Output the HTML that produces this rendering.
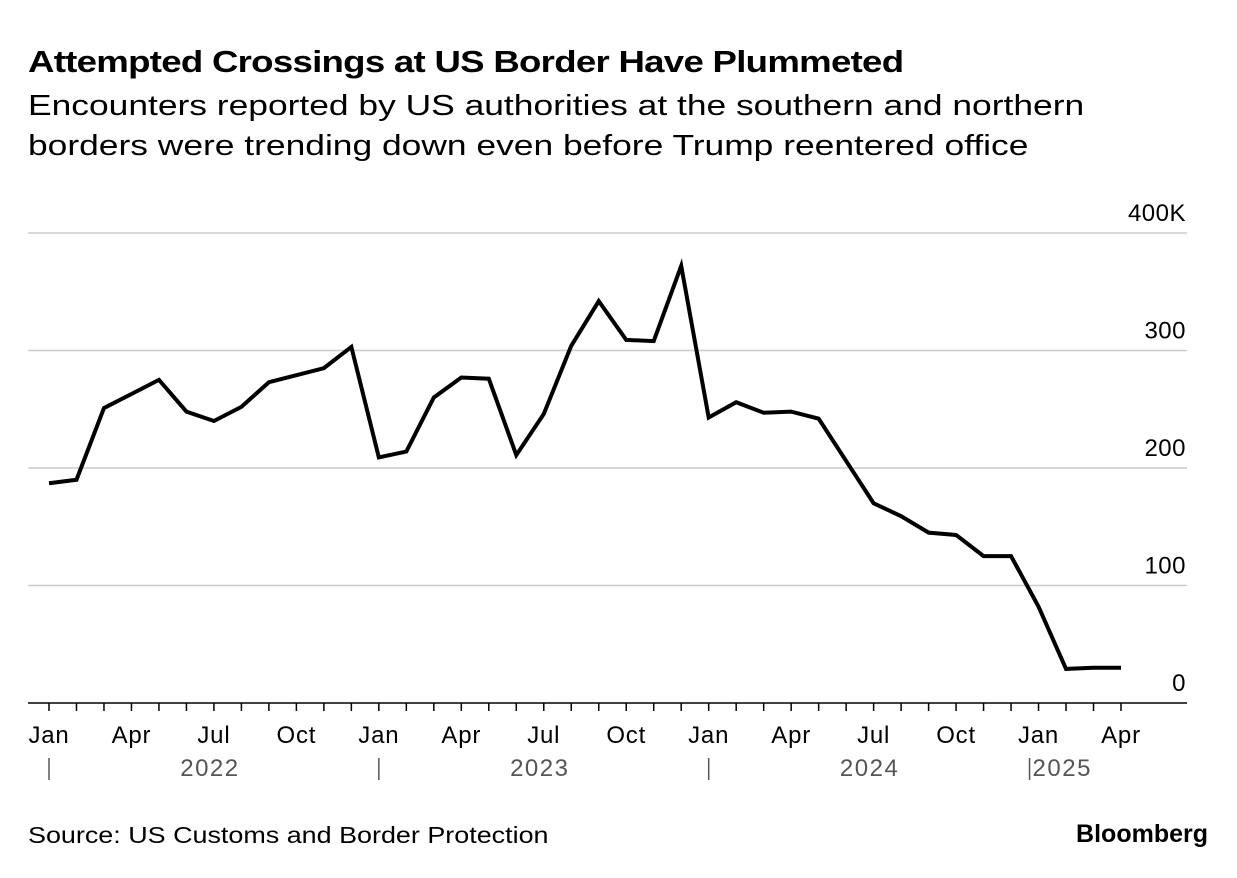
<!DOCTYPE html>
<html><head><meta charset="utf-8"><style>
body{margin:0;background:#fff;font-family:"Liberation Sans",sans-serif;}
#wrap{position:relative;width:1237px;height:878px;overflow:hidden;}
.t{position:absolute;left:28px;color:#000;transform-origin:0 0;white-space:nowrap;}
</style></head><body>
<div id="wrap">
<div class="t" style="top:44px;font-size:31px;font-weight:bold;letter-spacing:-0.6px;transform:scaleX(1.18);">Attempted Crossings at US Border Have Plummeted</div>
<div class="t" style="top:86px;font-size:29px;line-height:40px;transform:scaleX(1.22);">Encounters reported by US authorities at the southern and northern<br>borders were trending down even before Trump reentered office</div>
<svg id="svg" width="1237" height="878" style="position:absolute;left:0;top:0"></svg>
<div class="t" style="top:822px;font-size:23px;transform:scaleX(1.17);">Source: US Customs and Border Protection</div>
<div style="position:absolute;right:29px;top:820px;font-size:25px;font-weight:bold;">Bloomberg</div>
</div>
<script>
const values=[187,190,251,263,275,248,240,252,273,279,285,303,209,214,260,277,276,211,246,304,342,309,308,372,243,256,247,248,242,206,170,159,145,143,125,125,82,29,30,30];
const yTicks=[0,100,200,300,400];
const yTickLabels=["0","100","200","300","400K"];
const monthLabels=["Jan","Apr","Jul","Oct"];
const years=["2022","2023","2024","2025"];
const NS="http://www.w3.org/2000/svg",svg=document.getElementById("svg");
const x0=49,dx=(1121-49)/39,y0=703,ky=(703-233)/400;
const X=i=>x0+i*dx,Y=v=>y0-v*ky;
function mk(t,a){const e=document.createElementNS(NS,t);for(const k in a)e.setAttribute(k,a[k]);svg.appendChild(e);return e;}
yTicks.forEach((v,i)=>{
 if(v>0){const g=mk("line",{x1:28,x2:1187,y1:Y(v),y2:Y(v),stroke:"#ccc","stroke-width":1.5});
 
 }
 const t=mk("text",{x:1186,y:Y(v)-12,"text-anchor":"end","font-size":24,"letter-spacing":"0.5",fill:"#000","font-family":"Liberation Sans, sans-serif"});
 t.textContent=yTickLabels[i];
 
 
});
const ax=mk("line",{x1:28,x2:1187,y1:y0,y2:y0,stroke:"#000","stroke-width":1.5});


for(let i=0;i<values.length;i++){
 const tk=mk("line",{x1:X(i),x2:X(i),y1:y0,y2:y0+8,stroke:"#000","stroke-width":1.5});
 
 
 if(i%3==0){const t=mk("text",{x:X(i),y:743,"text-anchor":"middle","font-size":24,"letter-spacing":"0.8",fill:"#000","font-family":"Liberation Sans, sans-serif"});
 t.textContent=monthLabels[(i/3)%4];
 
 }
}
years.forEach((yr,k)=>{
 const i=k*12;
 const s=mk("line",{x1:X(i)-9*(k==3),x2:X(i)-9*(k==3),y1:758,y2:780,stroke:"#555","stroke-width":1.5});
 
 
 const t=mk("text",{x:k==3?X(i)-6:X(i+6)-4,y:776,"text-anchor":k==3?"start":"middle","font-size":24,fill:"#555","font-family":"Liberation Sans, sans-serif","letter-spacing":"1.5"});
 t.textContent=yr;
 
 
});
const p=mk("polyline",{points:values.map((v,i)=>X(i)+","+Y(v)).join(" "),fill:"none",stroke:"#000","stroke-width":4,"stroke-linejoin":"miter"});


</script>
</body></html>
